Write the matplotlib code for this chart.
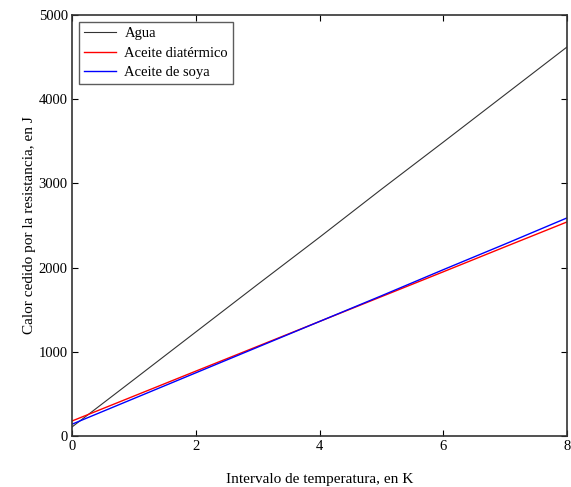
import matplotlib
matplotlib.use("Agg")
import matplotlib.pyplot as plt

x = [0, 1, 2, 3, 4, 5, 6, 7, 8]
agua = [107, 670, 1235, 1800, 2360, 2930, 3490, 4055, 4620]
diatermico = [178, 474, 770, 1065, 1360, 1655, 1950, 2247, 2542]
soya = [140, 445, 750, 1055, 1360, 1665, 1975, 2280, 2590]
labels = ["Agua", "Aceite diatérmico", "Aceite de soya"]

plt.rcParams['font.family'] = ['Liberation Serif', 'DejaVu Serif']

fig = plt.figure(figsize=(5.71, 4.87), dpi=100)
ax = fig.add_axes([72/571, 1-436/487, 495/571, 421/487])
ax.plot(x, agua, color="#333333", lw=0.8, label=labels[0])
ax.plot(x, diatermico, color="red", lw=1.0, label=labels[1])
ax.plot(x, soya, color="blue", lw=1.0, label=labels[2])
ax.set_xlim(0, 8)
ax.set_ylim(0, 5000)
ax.set_xticks([0, 2, 4, 6, 8])
ax.set_yticks([0, 1000, 2000, 3000, 4000, 5000])
ax.tick_params(direction="in", top=True, right=True, labelsize=10.5, length=4, width=0.8, pad=3)
for s in ax.spines.values():
    s.set_linewidth(1.2)
    s.set_color("#333333")
ax.set_xlabel("Intervalo de temperatura, en K", fontsize=11, labelpad=14)
ax.set_ylabel("Calor cedido por la resistancia, en J", fontsize=11, labelpad=2)
leg = ax.legend(loc="upper left", fontsize=10.5, frameon=True, fancybox=False,
                edgecolor="#333333", handlelength=2.2, handletextpad=0.6,
                borderaxespad=0.5, labelspacing=0.45, borderpad=0.3)
leg.get_frame().set_linewidth(1.0)
fig.savefig("out.png", dpi=100, facecolor="white")
